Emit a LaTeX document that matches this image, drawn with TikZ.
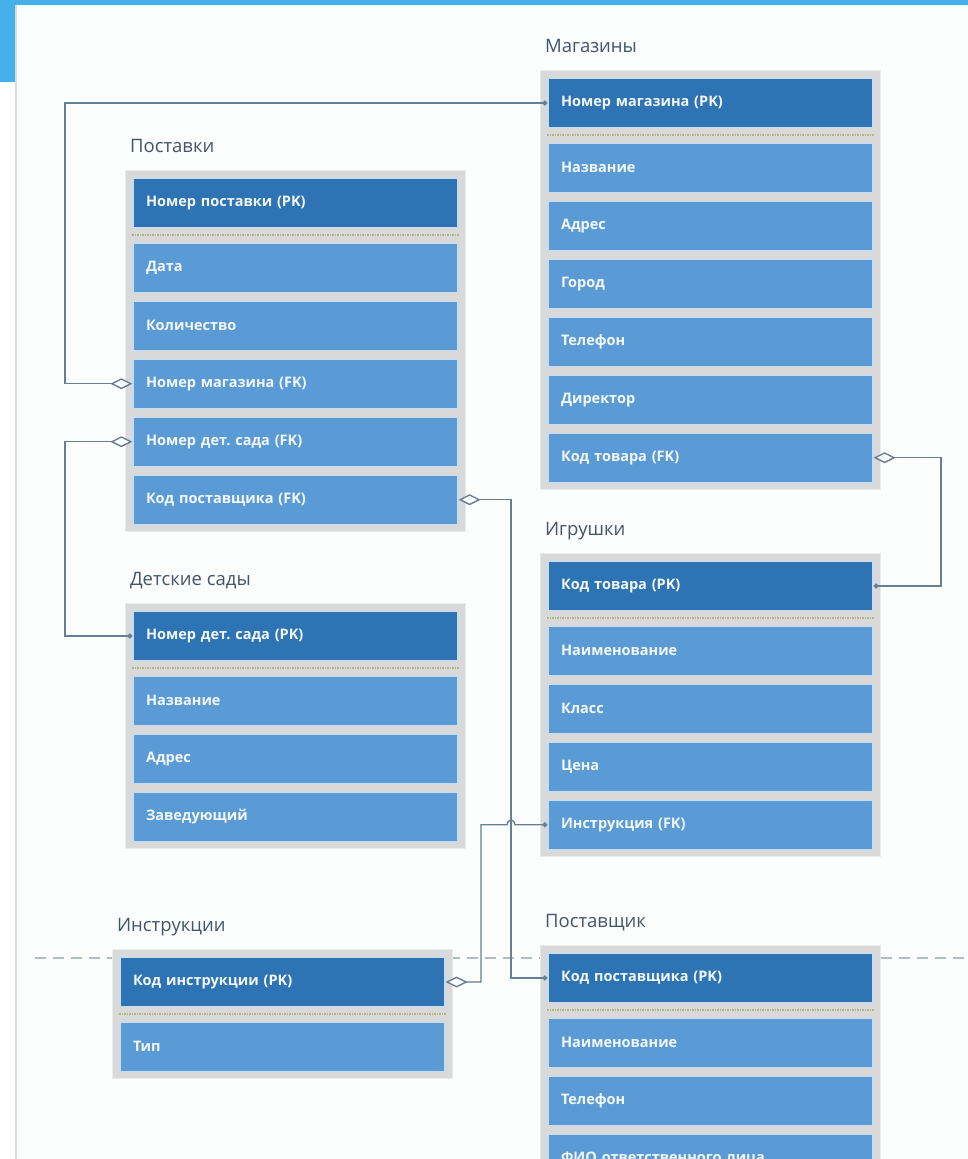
\documentclass[tikz,border=0pt]{standalone}
\usepackage{fontspec}
\setmainfont{Open Sans}
\frenchspacing
\usepackage{tikz}
\usetikzlibrary{arrows.meta, positioning, backgrounds, fit}
\definecolor{topband}{HTML}{45B0EA}
\definecolor{pagewhite}{HTML}{FCFDFD}
\definecolor{pageshadow}{HTML}{D5DBDF}
\definecolor{framegray}{HTML}{D9D9D9}
\definecolor{frameedge}{HTML}{E9EAEA}
\definecolor{pkblue}{HTML}{2E74B5}
\definecolor{rowblue}{HTML}{5B9BD5}
\definecolor{rowedge}{HTML}{C5DDF2}
\definecolor{rowtext}{HTML}{F3F8FC}
\definecolor{titleslate}{HTML}{44546A}
\definecolor{linkgray}{HTML}{667F96}
\definecolor{sepkhaki}{HTML}{B3B584}
\definecolor{guidedash}{HTML}{AFBCC8}

\tikzset{
  tabframe/.style={fill=framegray, draw=frameedge, line width=1pt, inner sep=7pt},
  row/.style={rectangle, fill=rowblue, draw=rowedge, line width=1.2pt,
    minimum height=49pt, text width=299pt, inner xsep=13pt, align=left,
    text=rowtext, font=\bfseries\fontsize{14.5}{16}\selectfont},
  pkrow/.style={row, fill=pkblue},
  tabtitle/.style={text=titleslate, inner sep=0pt, anchor=base west,
    font=\fontsize{18.5}{21}\selectfont},
  sepline/.style={draw=sepkhaki, line width=2.5pt, dash pattern=on 1.5pt off 1pt},
  relline/.style={draw=linkgray, line width=1.4pt},
  fkend/.tip={Diamond[open, fill=white, length=22pt, width=11pt]},
  pkend/.tip={Circle[length=5pt]},
}

\begin{document}
\begin{tikzpicture}[x=1pt, y=-1pt]
  \useasboundingbox (0,0) rectangle (968,1159);
  \clip (0,0) rectangle (968,1159);

  % page
  \begin{scope}[on background layer]
    \fill[white] (0,0) rectangle (968,1159);
    \fill[pagewhite] (15,5) rectangle (968,1159);
    \fill[topband] (0,0) rectangle (968,5);
    \fill[topband] (0,0) rectangle (15,82);
    \draw[pageshadow, line width=1.5pt] (16,5) -- (16,1159);
    \draw[guidedash, line width=1.2pt, dash pattern=on 11pt off 7pt] (35,958) -- (968,958);
  \end{scope}

  % Поставки
  \node[pkrow] (pos-pk) at (295.5,203) {Номер поставки (PK)};
  \node[row, below=14.5pt of pos-pk] (pos-date) {Дата};
  \node[row, below=7.8pt of pos-date] (pos-qty) {Количество};
  \node[row, below=7.8pt of pos-qty] (pos-mag) {Номер магазина (FK)};
  \node[row, below=7.8pt of pos-mag] (pos-sad) {Номер дет. сада (FK)};
  \node[row, below=7.8pt of pos-sad] (pos-post) {Код поставщика (FK)};

  % Магазины
  \node[pkrow] (mag-pk) at (710.5,103) {Номер магазина (PK)};
  \node[row, below=14.5pt of mag-pk] (mag-name) {Название};
  \node[row, below=7.8pt of mag-name] (mag-addr) {Адрес};
  \node[row, below=7.8pt of mag-addr] (mag-city) {Город};
  \node[row, below=7.8pt of mag-city] (mag-tel) {Телефон};
  \node[row, below=7.8pt of mag-tel] (mag-dir) {Директор};
  \node[row, below=7.8pt of mag-dir] (mag-tov) {Код товара (FK)};

  % Игрушки
  \node[pkrow] (igr-pk) at (710.5,586) {Код товара (PK)};
  \node[row, below=14.5pt of igr-pk] (igr-name) {Наименование};
  \node[row, below=7.8pt of igr-name] (igr-class) {Класс};
  \node[row, below=7.8pt of igr-class] (igr-price) {Цена};
  \node[row, below=7.8pt of igr-price] (igr-ins) {Инструкция (FK)};

  % Детские сады
  \node[pkrow] (sad-pk) at (295.5,636) {Номер дет. сада (PK)};
  \node[row, below=14.5pt of sad-pk] (sad-name) {Название};
  \node[row, below=7.8pt of sad-name] (sad-addr) {Адрес};
  \node[row, below=7.8pt of sad-addr] (sad-head) {Заведующий};

  % Инструкции
  \node[pkrow] (ins-pk) at (282.5,982) {Код инструкции (PK)};
  \node[row, below=14.5pt of ins-pk] (ins-type) {Тип};

  % Поставщик
  \node[pkrow] (pst-pk) at (710.5,978) {Код поставщика (PK)};
  \node[row, below=14.5pt of pst-pk] (pst-name) {Наименование};
  \node[row, below=7.8pt of pst-name] (pst-tel) {Телефон};
  \node[row, below=7.8pt of pst-tel] (pst-fio) {ФИО ответственного лица};

  \begin{scope}[on background layer]
    \node[tabframe, fit=(pos-pk)(pos-post)] (pos-frame) {};
    \node[tabframe, fit=(mag-pk)(mag-tov)] (mag-frame) {};
    \node[tabframe, fit=(igr-pk)(igr-ins)] (igr-frame) {};
    \node[tabframe, fit=(sad-pk)(sad-head)] (sad-frame) {};
    \node[tabframe, fit=(ins-pk)(ins-type)] (ins-frame) {};
    \node[tabframe, fit=(pst-pk)(pst-fio)] (pst-frame) {};
  \end{scope}

  \foreach \t in {pos,mag,igr,sad,ins,pst}
    \draw[sepline] ([yshift=-7pt]\t-pk.south west) -- ([yshift=-7pt]\t-pk.south east);

  \node[tabtitle] (pos-title) at ([xshift=5pt, yshift=18pt]pos-frame.north west) {Поставки};
  \node[tabtitle] (mag-title) at ([xshift=5pt, yshift=18pt]mag-frame.north west) {Магазины};
  \node[tabtitle] (igr-title) at ([xshift=5pt, yshift=18pt]igr-frame.north west) {Игрушки};
  \node[tabtitle] (sad-title) at ([xshift=5pt, yshift=18pt]sad-frame.north west) {Детские сады};
  \node[tabtitle] (ins-title) at ([xshift=5pt, yshift=18pt]ins-frame.north west) {Инструкции};
  \node[tabtitle] (pst-title) at ([xshift=5pt, yshift=18pt]pst-frame.north west) {Поставщик};

  % links
  \coordinate (lbus) at (65,0);
  \coordinate (pstbus) at (511,0);
  \coordinate (insbus) at (481,0);
  \coordinate (rbus) at (941,0);
  \coordinate (hop) at (pstbus |- igr-ins.west);

  \draw[relline, {pkend}-{fkend}] (mag-pk.west) -- (mag-pk.west -| lbus) |- (pos-mag.west);
  \draw[relline, {pkend}-{fkend}] (sad-pk.west) -- (sad-pk.west -| lbus) |- (pos-sad.west);
  \draw[relline, {fkend}-{pkend}] (pos-post.east) -- (pos-post.east -| pstbus) |- (pst-pk.west);
  \draw[relline, {fkend}-{pkend}] (mag-tov.east) -- (mag-tov.east -| rbus) |- (igr-pk.east);
  \draw[relline, {fkend}-{pkend}] (ins-pk.east) -- (ins-pk.east -| insbus) -- (insbus |- hop)
    -- ([xshift=-4pt]hop) .. controls ([xshift=-4pt, yshift=6pt]hop) and ([xshift=4pt, yshift=6pt]hop) .. ([xshift=4pt]hop)
    -- (igr-ins.west);
\end{tikzpicture}
\end{document}
